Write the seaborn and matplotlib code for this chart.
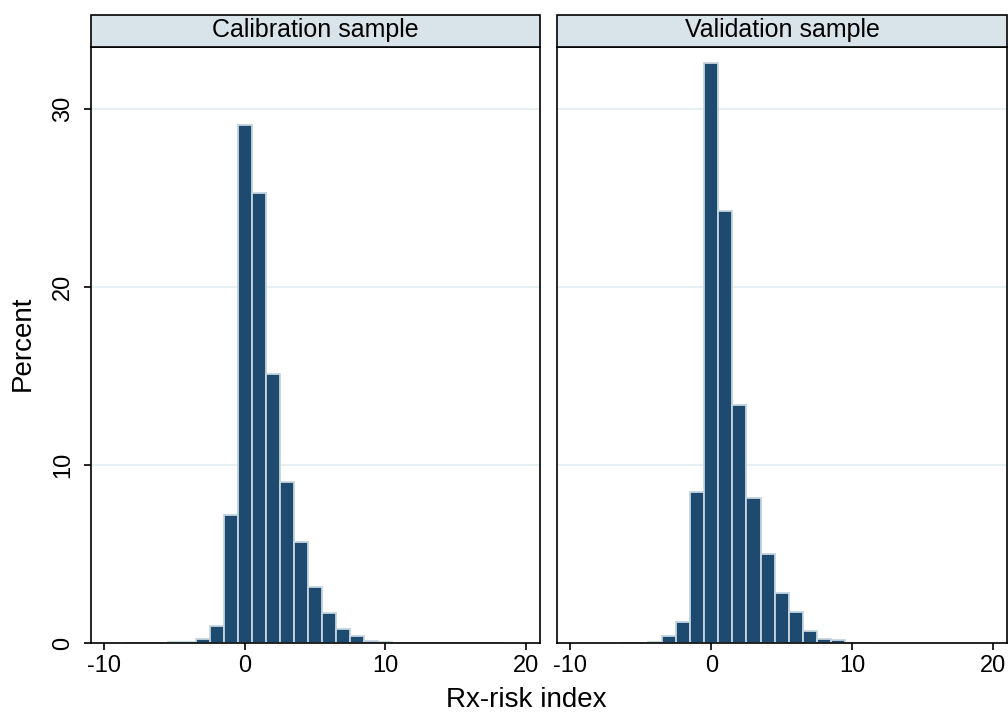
import numpy as np
import pandas as pd
import seaborn as sns
import matplotlib.pyplot as plt
from matplotlib.patches import Rectangle

# Rx-risk index values (bin centres) and percent per bin
risk_index = list(range(-10, 21))
calibration_pct = [0.0, 0.0, 0.01, 0.01, 0.02, 0.03, 0.07, 0.22, 0.95, 7.2,
                   29.1, 25.3, 15.1, 9.05, 5.67, 3.12, 1.68, 0.78, 0.4, 0.13,
                   0.04, 0.02, 0.01, 0.01, 0.0, 0.0, 0.0, 0.0, 0.01, 0.0, 0.0]
validation_pct = [0.0, 0.0, 0.0, 0.0, 0.01, 0.02, 0.05, 0.4, 1.2, 8.5,
                  32.6, 24.3, 13.4, 8.15, 5.0, 2.8, 1.72, 0.66, 0.22, 0.17,
                  0.02, 0.01, 0.0, 0.0, 0.0, 0.0, 0.0, 0.0, 0.0, 0.0, 0.0]
panel_titles = ["Calibration sample", "Validation sample"]

df = pd.concat([
    pd.DataFrame({"sample": panel_titles[0], "index": risk_index, "pct": calibration_pct}),
    pd.DataFrame({"sample": panel_titles[1], "index": risk_index, "pct": validation_pct}),
])
df = df[df["pct"] > 0]

sns.set_style("white")
plt.rcParams["font.family"] = ["Liberation Sans", "DejaVu Sans"]
plt.rcParams["axes.unicode_minus"] = False

bar_color = "#1f4a6f"
edge_color = "#c4d5e1"
grid_color = "#e6eff1"
strip_color = "#d9e4ea"

fig = plt.figure(figsize=(10.08, 7.13), dpi=100)
W, H = 1008, 713
ax_top, ax_bot = 47, 643
positions = [(91, 540), (557, 1007)]
axes = []
for i, (x0, x1) in enumerate(positions):
    ax = fig.add_axes([x0 / W, (H - ax_bot) / H, (x1 - x0) / W, (ax_bot - ax_top) / H],
                      sharey=axes[0] if axes else None)
    axes.append(ax)
    sub = df[df["sample"] == panel_titles[i]]
    sns.histplot(data=sub, x="index", weights="pct", discrete=True, ax=ax,
                 color=bar_color, edgecolor=edge_color, linewidth=1.3, alpha=1)
    ax.set_xlim(-10.95, 21.0)
    ax.set_ylim(0, 33.5)
    ax.set_yticks([0, 10, 20, 30])
    ax.set_xticks([-10, 0, 10, 20])
    for y in [10, 20, 30]:
        ax.axhline(y, color=grid_color, lw=1.5, zorder=0)
    ax.set_xlabel("")
    ax.set_ylabel("")
    for s in ax.spines.values():
        s.set_visible(True)
        s.set_color("black")
        s.set_linewidth(1.2)
    ax.tick_params(axis="x", length=5, width=1.2, color="black", labelcolor="black",
                   labelsize=17, direction="out", bottom=True, pad=4)
    if i == 0:
        ax.tick_params(axis="y", length=5, width=1.2, color="black", labelcolor="black",
                       labelsize=17, direction="out", left=True, pad=7)
        for lab in ax.get_yticklabels():
            lab.set_rotation(90)
            lab.set_va("center")
    else:
        ax.tick_params(axis="y", left=False, labelleft=False)
    # panel header strip
    strip = Rectangle(((x0) / W, (H - ax_top) / H), (x1 - x0) / W, 32 / H,
                      transform=fig.transFigure, facecolor=strip_color,
                      edgecolor="black", linewidth=1.2, clip_on=False)
    fig.add_artist(strip)
    fig.text((x0 + x1) / 2 / W, (H - ax_top + 17) / H, panel_titles[i],
             ha="center", va="center", fontsize=18, color="black")

fig.text(526 / W, (H - 700) / H, "Rx-risk index", ha="center", va="center",
         fontsize=20, color="black")
fig.text(23 / W, (H - 343) / H, "Percent", ha="center", va="center", rotation=90,
         fontsize=20, color="black")

fig.savefig("out.png", dpi=100, facecolor="white")
